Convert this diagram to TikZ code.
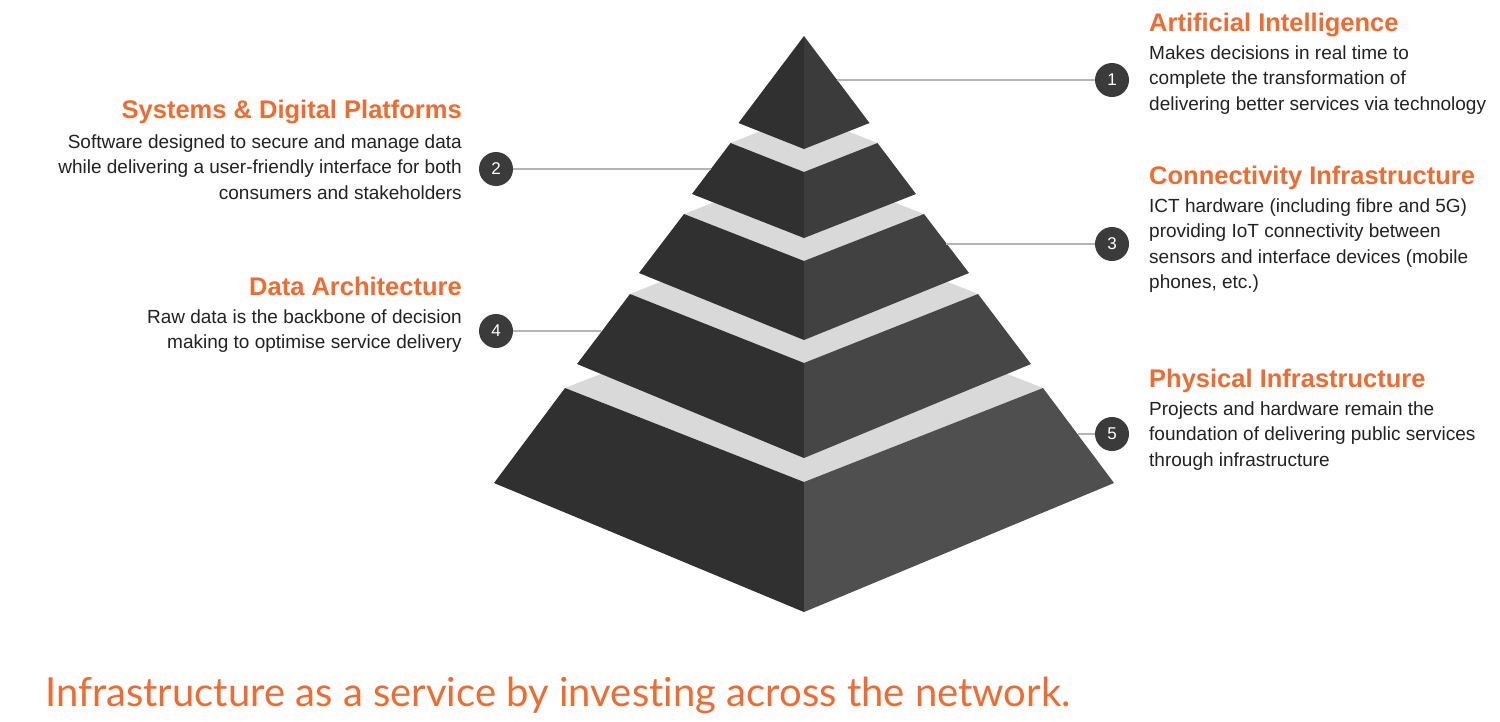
\documentclass[tikz,border=0pt]{standalone}
\usepackage{fontspec}
\setmainfont{Liberation Sans}
\newfontfamily\latofont[Ligatures=NoCommon]{Lato}
\definecolor{orng}{HTML}{EF6B2F}
\definecolor{bodytxt}{HTML}{222222}
\definecolor{bandgray}{HTML}{D9D9D9}
\definecolor{leftdark}{HTML}{303030}
\definecolor{rightA}{HTML}{3B3B3B}
\definecolor{rightB}{HTML}{3D3D3D}
\definecolor{rightC}{HTML}{414141}
\definecolor{rightD}{HTML}{464646}
\definecolor{rightE}{HTML}{4F4F4F}
\definecolor{leadgray}{HTML}{B5B5B5}
\definecolor{circfill}{HTML}{3B3B3B}
\newcommand{\pyrtier}[7]{%
  \fill[bandgray] ({804-#1},#2) -- (804,#3) -- ({804+#1},#2) -- (804,{2*#2-#3}) -- cycle;
  \fill[leftdark] ({804-#1},#2) -- (804,#3) -- (804,#6) -- ({804-#4},#5) -- cycle;
  \fill[#7] ({804+#1},#2) -- (804,#3) -- (804,#6) -- ({804+#4},#5) -- cycle;}
\begin{document}
\begin{tikzpicture}[x=1pt,y=-1pt,
  hd/.style={anchor=base west,inner sep=0pt,text=orng,font=\bfseries\fontsize{25.5}{25.5}\selectfont},
  hdl/.style={hd,anchor=base east},
  bd/.style={anchor=base west,inner sep=0pt,text=bodytxt,font=\fontsize{19}{25.5}\selectfont},
  bdl/.style={bd,anchor=base east},
  num/.style={circle,fill=circfill,minimum size=34pt,inner sep=0pt,text=white,font=\fontsize{17}{17}\selectfont},
  leader/.style={draw=leadgray,line width=1.5pt}]
\useasboundingbox (0,0) rectangle (1500,721);
\fill[white] (0,0) rectangle (1500,721);
% pyramid, bottom to top
\pyrtier{239}{388}{482}{310}{483}{612}{rightE}
\pyrtier{174}{294}{363}{227}{364}{458}{rightD}
\pyrtier{120}{214}{261}{165}{273}{340}{rightC}
\pyrtier{73.5}{143}{172}{112}{194}{238}{rightB}
\fill[leftdark] (804,36) -- (804,149) -- (738.5,123) -- cycle;
\fill[rightA] (804,36) -- (804,149) -- (869.5,123) -- cycle;
% leader end points on the tiers
\coordinate (e1) at (837,80);
\coordinate (e2) at (711,169);
\coordinate (e3) at (946,244);
\coordinate (e4) at (601,331);
\coordinate (e5) at (1078,434);
% number circles
\node[num] (c1) at (1112,80) {1};
\node[num] (c2) at (496,169) {2};
\node[num] (c3) at (1112,244) {3};
\node[num] (c4) at (496,331) {4};
\node[num] (c5) at (1112,434) {5};
\draw[leader] (c1) -- (e1);
\draw[leader] (c2) -- (e2);
\draw[leader] (c3) -- (e3);
\draw[leader] (c4) -- (e4);
\draw[leader] (c5) -- (e5);
% right texts
\node[hd] (h1) at (1149,31) {Artificial Intelligence};
\node[bd] (b1) at (1149,59) {\begin{tabular}[t]{@{}l@{}}Makes decisions in real time to\\complete the transformation of\\delivering better services via technology\end{tabular}};
\node[hd] (h3) at (1149,184) {Connectivity Infrastructure};
\node[bd] (b3) at (1149,212) {\begin{tabular}[t]{@{}l@{}}ICT hardware (including fibre and 5G)\\providing IoT connectivity between\\sensors and interface devices (mobile\\phones, etc.)\end{tabular}};
\node[hd] (h5) at (1149,387) {Physical Infrastructure};
\node[bd] (b5) at (1149,415) {\begin{tabular}[t]{@{}l@{}}Projects and hardware remain the\\foundation of delivering public services\\through infrastructure\end{tabular}};
% left texts
\node[hdl] (h2) at (462,118) {Systems \& Digital Platforms};
\node[bdl] (b2) at (462,148) {\begin{tabular}[t]{@{}r@{}}Software designed to secure and manage data\\while delivering a user-friendly interface for both\\consumers and stakeholders\end{tabular}};
\node[hdl] (h4) at (462,295) {Data Architecture};
\node[bdl] (b4) at (462,323) {\begin{tabular}[t]{@{}r@{}}Raw data is the backbone of decision\\making to optimise service delivery\end{tabular}};
% bottom line
\node[anchor=base west,inner sep=0pt,text=orng,font=\latofont\fontsize{40}{40}\selectfont] (foot) at (45,706) {Infrastructure as a service by investing across the network.};
\end{tikzpicture}
\end{document}
